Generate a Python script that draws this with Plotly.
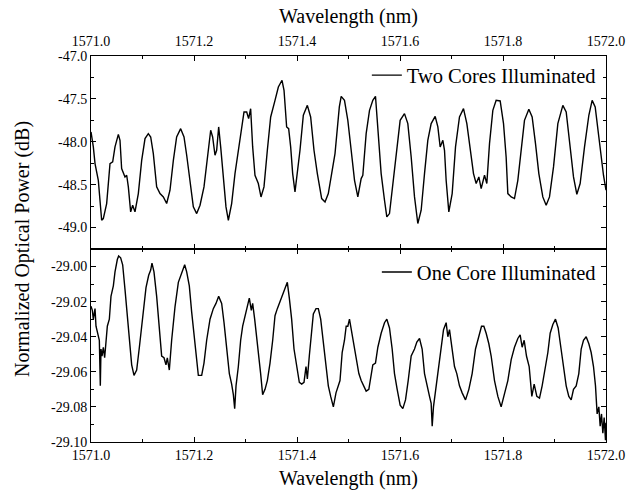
import plotly.graph_objects as go

# ---------------- data ----------------
two_wl = [1571.0000, 1571.0045, 1571.0078, 1571.0110, 1571.0142, 1571.0207, 1571.0239, 1571.0304,
          1571.0369, 1571.0421, 1571.0466, 1571.0531, 1571.0563, 1571.0595, 1571.0660, 1571.0693,
          1571.0725, 1571.0770, 1571.0809, 1571.0854, 1571.0919, 1571.0984, 1571.1049, 1571.1113,
          1571.1159, 1571.1210, 1571.1275, 1571.1340, 1571.1405, 1571.1469, 1571.1534, 1571.1599,
          1571.1663, 1571.1741, 1571.1806, 1571.1858, 1571.1922, 1571.1987, 1571.2052, 1571.2117,
          1571.2194, 1571.2259, 1571.2324, 1571.2362, 1571.2408, 1571.2440, 1571.2479, 1571.2518,
          1571.2570, 1571.2621, 1571.2667, 1571.2731, 1571.2796, 1571.2861, 1571.2926, 1571.2971,
          1571.3023, 1571.3061, 1571.3100, 1571.3139, 1571.3184, 1571.3249, 1571.3301, 1571.3359,
          1571.3424, 1571.3489, 1571.3573, 1571.3638, 1571.3709, 1571.3748, 1571.3799, 1571.3838,
          1571.3877, 1571.3916, 1571.3961, 1571.4006, 1571.4058, 1571.4123, 1571.4201, 1571.4265,
          1571.4330, 1571.4395, 1571.4479, 1571.4544, 1571.4608, 1571.4673, 1571.4738, 1571.4822,
          1571.4858, 1571.4922, 1571.4987, 1571.5052, 1571.5117, 1571.5181, 1571.5246, 1571.5278,
          1571.5343, 1571.5408, 1571.5472, 1571.5524, 1571.5570, 1571.5634, 1571.5699, 1571.5744,
          1571.5796, 1571.5861, 1571.5926, 1571.6003, 1571.6087, 1571.6152, 1571.6217, 1571.6282,
          1571.6346, 1571.6411, 1571.6476, 1571.6540, 1571.6605, 1571.6683, 1571.6735, 1571.6780,
          1571.6832, 1571.6864, 1571.6896, 1571.6948, 1571.7013, 1571.7078, 1571.7155, 1571.7233,
          1571.7298, 1571.7362, 1571.7427, 1571.7479, 1571.7531, 1571.7576, 1571.7641, 1571.7686,
          1571.7738, 1571.7803, 1571.7867, 1571.7945, 1571.8010, 1571.8061, 1571.8094, 1571.8159,
          1571.8223, 1571.8288, 1571.8353, 1571.8417, 1571.8502, 1571.8566, 1571.8631, 1571.8696,
          1571.8773, 1571.8838, 1571.8903, 1571.8981, 1571.9065, 1571.9162, 1571.9227, 1571.9291,
          1571.9369, 1571.9434, 1571.9498, 1571.9583, 1571.9667, 1571.9731, 1571.9790, 1571.9861,
          1571.9906, 1571.9951, 1572.0000]
two_db = [-47.885, -48.060, -48.254, -48.351, -48.449, -48.915, -48.895, -48.720,
          -48.254, -48.235, -48.060, -47.913, -47.983, -48.313, -48.410, -48.390,
          -48.526, -48.817, -48.740, -48.817, -48.604, -48.216, -47.963, -47.905,
          -47.944, -48.138, -48.526, -48.604, -48.643, -48.720, -48.565, -48.216,
          -47.944, -47.847, -47.944, -48.157, -48.487, -48.759, -48.837, -48.740,
          -48.526, -48.177, -47.866, -47.944, -48.157, -48.099, -47.827, -48.060,
          -48.371, -48.759, -48.915, -48.720, -48.371, -48.099, -47.788, -47.652,
          -47.652, -47.730, -47.614, -48.060, -48.390, -48.487, -48.643, -48.526,
          -48.099, -47.711, -47.517, -47.361, -47.283, -47.400, -47.827, -47.847,
          -48.060, -48.371, -48.584, -48.371, -48.099, -47.691, -47.575, -47.711,
          -48.099, -48.371, -48.662, -48.701, -48.604, -48.371, -48.138, -47.594,
          -47.470, -47.517, -47.750, -48.099, -48.449, -48.643, -48.429, -48.390,
          -47.905, -47.633, -47.517, -47.470, -47.827, -48.371, -48.682, -48.876,
          -48.837, -48.487, -48.099, -47.750, -47.672, -47.788, -48.177, -48.643,
          -48.953, -48.798, -48.371, -47.983, -47.788, -47.703, -47.827, -48.060,
          -47.983, -48.099, -48.449, -48.817, -48.604, -48.060, -47.711, -47.614,
          -47.788, -48.099, -48.371, -48.487, -48.410, -48.546, -48.390, -48.487,
          -48.021, -47.633, -47.517, -47.524, -47.788, -48.177, -48.604, -48.643,
          -48.662, -48.449, -48.060, -47.750, -47.621, -47.711, -48.021, -48.371,
          -48.643, -48.740, -48.643, -48.293, -47.788, -47.575, -47.652, -47.983,
          -48.410, -48.612, -48.487, -48.060, -47.691, -47.517, -47.594, -47.944,
          -48.177, -48.390, -48.565]

one_wl = [1571.0000, 1571.0026, 1571.0045, 1571.0078, 1571.0097, 1571.0123, 1571.0162, 1571.0181,
          1571.0194, 1571.0214, 1571.0239, 1571.0265, 1571.0291, 1571.0317, 1571.0356, 1571.0388,
          1571.0434, 1571.0466, 1571.0511, 1571.0537, 1571.0576, 1571.0615, 1571.0660, 1571.0725,
          1571.0790, 1571.0835, 1571.0887, 1571.0939, 1571.1003, 1571.1068, 1571.1120, 1571.1159,
          1571.1184, 1571.1223, 1571.1275, 1571.1327, 1571.1372, 1571.1417, 1571.1456, 1571.1482,
          1571.1521, 1571.1566, 1571.1631, 1571.1696, 1571.1761, 1571.1819, 1571.1858, 1571.1909,
          1571.1955, 1571.2000, 1571.2052, 1571.2084, 1571.2149, 1571.2194, 1571.2246, 1571.2311,
          1571.2375, 1571.2427, 1571.2479, 1571.2537, 1571.2583, 1571.2634, 1571.2686, 1571.2731,
          1571.2764, 1571.2790, 1571.2816, 1571.2861, 1571.2906, 1571.2945, 1571.2990, 1571.3042,
          1571.3074, 1571.3113, 1571.3139, 1571.3178, 1571.3217, 1571.3256, 1571.3294, 1571.3333,
          1571.3379, 1571.3424, 1571.3476, 1571.3528, 1571.3573, 1571.3618, 1571.3670, 1571.3722,
          1571.3773, 1571.3812, 1571.3851, 1571.3896, 1571.3942, 1571.3994, 1571.4045, 1571.4091,
          1571.4136, 1571.4175, 1571.4201, 1571.4239, 1571.4285, 1571.4317, 1571.4369, 1571.4414,
          1571.4460, 1571.4511, 1571.4563, 1571.4608, 1571.4654, 1571.4706, 1571.4757, 1571.4803,
          1571.4835, 1571.4877, 1571.4922, 1571.4955, 1571.4987, 1571.5019, 1571.5052, 1571.5097,
          1571.5149, 1571.5201, 1571.5246, 1571.5291, 1571.5343, 1571.5395, 1571.5440, 1571.5472,
          1571.5524, 1571.5570, 1571.5634, 1571.5699, 1571.5744, 1571.5796, 1571.5848, 1571.5893,
          1571.5945, 1571.6003, 1571.6055, 1571.6107, 1571.6159, 1571.6217, 1571.6282, 1571.6327,
          1571.6379, 1571.6430, 1571.6476, 1571.6521, 1571.6573, 1571.6605, 1571.6625, 1571.6650,
          1571.6702, 1571.6754, 1571.6799, 1571.6845, 1571.6896, 1571.6929, 1571.6961, 1571.7013,
          1571.7058, 1571.7103, 1571.7155, 1571.7207, 1571.7272, 1571.7337, 1571.7401, 1571.7466,
          1571.7531, 1571.7583, 1571.7628, 1571.7673, 1571.7725, 1571.7770, 1571.7835, 1571.7900,
          1571.7964, 1571.8029, 1571.8094, 1571.8159, 1571.8223, 1571.8288, 1571.8333, 1571.8372,
          1571.8411, 1571.8456, 1571.8508, 1571.8560, 1571.8605, 1571.8657, 1571.8709, 1571.8760,
          1571.8806, 1571.8871, 1571.8916, 1571.8968, 1571.9019, 1571.9071, 1571.9123, 1571.9175,
          1571.9227, 1571.9278, 1571.9324, 1571.9369, 1571.9421, 1571.9472, 1571.9518, 1571.9563,
          1571.9615, 1571.9667, 1571.9712, 1571.9757, 1571.9796, 1571.9828, 1571.9861, 1571.9887,
          1571.9913, 1571.9939, 1571.9964, 1571.9990, 1572.0000]
one_db = [-29.0226, -29.025, -29.030, -29.024, -29.034, -29.038, -29.042, -29.068,
          -29.047, -29.051, -29.046, -29.052, -29.044, -29.034, -29.030, -29.017,
          -29.011, -29.003, -28.996, -28.994, -28.995, -28.999, -29.013, -29.036,
          -29.056, -29.062, -29.059, -29.046, -29.027, -29.012, -29.005, -29.002,
          -28.998, -29.003, -29.017, -29.036, -29.051, -29.052, -29.056, -29.052,
          -29.059, -29.042, -29.023, -29.009, -29.003, -28.999, -29.003, -29.011,
          -29.026, -29.038, -29.055, -29.062, -29.062, -29.055, -29.042, -29.030,
          -29.024, -29.021, -29.017, -29.021, -29.032, -29.047, -29.061, -29.067,
          -29.073, -29.081, -29.068, -29.057, -29.042, -29.034, -29.028, -29.023,
          -29.018, -29.025, -29.021, -29.030, -29.040, -29.049, -29.061, -29.073,
          -29.070, -29.065, -29.055, -29.042, -29.028, -29.024, -29.020, -29.016,
          -29.013, -29.009, -29.018, -29.030, -29.047, -29.057, -29.066, -29.067,
          -29.066, -29.057, -29.064, -29.051, -29.037, -29.027, -29.024, -29.024,
          -29.030, -29.042, -29.057, -29.068, -29.074, -29.080, -29.072, -29.067,
          -29.065, -29.049, -29.042, -29.034, -29.034, -29.030, -29.036, -29.042,
          -29.051, -29.061, -29.065, -29.068, -29.071, -29.070, -29.061, -29.056,
          -29.055, -29.046, -29.038, -29.032, -29.030, -29.035, -29.047, -29.061,
          -29.070, -29.079, -29.081, -29.076, -29.065, -29.051, -29.047, -29.043,
          -29.041, -29.047, -29.061, -29.068, -29.074, -29.078, -29.091, -29.080,
          -29.068, -29.059, -29.047, -29.036, -29.032, -29.040, -29.036, -29.046,
          -29.057, -29.061, -29.068, -29.072, -29.076, -29.070, -29.061, -29.047,
          -29.039, -29.034, -29.034, -29.038, -29.044, -29.051, -29.065, -29.074,
          -29.080, -29.072, -29.065, -29.053, -29.046, -29.041, -29.039, -29.046,
          -29.042, -29.051, -29.057, -29.074, -29.067, -29.074, -29.075, -29.068,
          -29.061, -29.049, -29.038, -29.033, -29.030, -29.035, -29.046, -29.057,
          -29.068, -29.074, -29.076, -29.070, -29.068, -29.061, -29.047, -29.042,
          -29.040, -29.044, -29.049, -29.057, -29.068, -29.084, -29.080, -29.091,
          -29.084, -29.095, -29.086, -29.099, -29.089]

x_ticks = [1571.0, 1571.2, 1571.4, 1571.6, 1571.8, 1572.0]
x_tick_labels = ["1571.0", "1571.2", "1571.4", "1571.6", "1571.8", "1572.0"]
top_y_ticks = [-47.0, -47.5, -48.0, -48.5, -49.0]
top_y_labels = ["-47.0", "-47.5", "-48.0", "-48.5", "-49.0"]
bot_y_ticks = [-29.00, -29.02, -29.04, -29.06, -29.08, -29.10]
bot_y_labels = ["-29.00", "-29.02", "-29.04", "-29.06", "-29.08", "-29.10"]

x_title = "Wavelength (nm)"
y_title = "Normalized Optical Power (dB)"

# ---------------- figure ----------------
FONT = "Liberation Serif"

fig = go.Figure()
fig.add_trace(go.Scatter(x=two_wl, y=two_db, mode="lines", name="Two Cores Illuminated",
                         line=dict(color="black", width=1.4), xaxis="x2", yaxis="y2",
                         legend="legend"))
fig.add_trace(go.Scatter(x=one_wl, y=one_db, mode="lines", name="One Core Illuminated",
                         line=dict(color="black", width=1.4), xaxis="x", yaxis="y",
                         legend="legend2"))

axis_common = dict(showline=True, linecolor="black", linewidth=1, mirror="ticks",
                   ticks="inside", ticklen=5, tickwidth=1, tickcolor="black",
                   showgrid=False, zeroline=False, automargin=False,
                   tickfont=dict(family=FONT, size=14, color="black"))

title_font = dict(family=FONT, size=20, color="black")

fig.update_layout(
    width=629, height=491,
    margin=dict(l=91, r=23, t=56, b=49),
    paper_bgcolor="white", plot_bgcolor="white",
    font=dict(family=FONT, color="black"),
    xaxis=dict(domain=[0, 1], anchor="y", range=[1571.0, 1572.0], side="bottom",
               tickmode="array", tickvals=x_ticks, ticktext=x_tick_labels,
               minor=dict(ticks="inside", ticklen=3, dtick=0.1, tick0=1571.0, tickcolor="black"),
               **axis_common),
    yaxis=dict(domain=[0, 0.5], anchor="x", range=[-29.10, -28.990],
               tickmode="array", tickvals=bot_y_ticks, ticktext=bot_y_labels,
               minor=dict(ticks="inside", ticklen=3, dtick=0.01, tick0=-29.10, tickcolor="black"),
               **axis_common),
    xaxis2=dict(domain=[0, 1], anchor="y2", range=[1571.0, 1572.0], side="top",
                tickmode="array", tickvals=x_ticks, ticktext=x_tick_labels,
                ticklabelstandoff=3,
                minor=dict(ticks="inside", ticklen=3, dtick=0.1, tick0=1571.0, tickcolor="black"),
                **axis_common),
    yaxis2=dict(domain=[0.5, 1], anchor="x2", range=[-49.25, -47.0],
                tickmode="array", tickvals=top_y_ticks, ticktext=top_y_labels,
                minor=dict(ticks="inside", ticklen=3, dtick=0.25, tick0=-47.0, tickcolor="black"),
                **axis_common),
    legend=dict(x=0.99, y=0.95, xanchor="right", yanchor="middle",
                bgcolor="rgba(0,0,0,0)", borderwidth=0,
                font=dict(family=FONT, size=20.5, color="black")),
    legend2=dict(x=0.99, y=0.44, xanchor="right", yanchor="middle",
                 bgcolor="rgba(0,0,0,0)", borderwidth=0,
                 font=dict(family=FONT, size=20.5, color="black")),
    showlegend=True,
    annotations=[
        dict(text=y_title, xref="paper", yref="paper", x=-0.134, y=0.5, textangle=-90,
             showarrow=False, xanchor="center", yanchor="middle", font=title_font),
        dict(text=x_title, xref="paper", yref="paper", x=0.5, y=1.1036,
             showarrow=False, xanchor="center", yanchor="middle", font=title_font),
        dict(text=x_title, xref="paper", yref="paper", x=0.5, y=-0.0933,
             showarrow=False, xanchor="center", yanchor="middle", font=title_font),
    ],
)

# let the figure sit at the page's top-left corner (no default body margin)
fig.write_html("out.html",
               config={"displayModeBar": False},
               post_script="document.body.style.margin='0';document.body.style.overflow='hidden';")
